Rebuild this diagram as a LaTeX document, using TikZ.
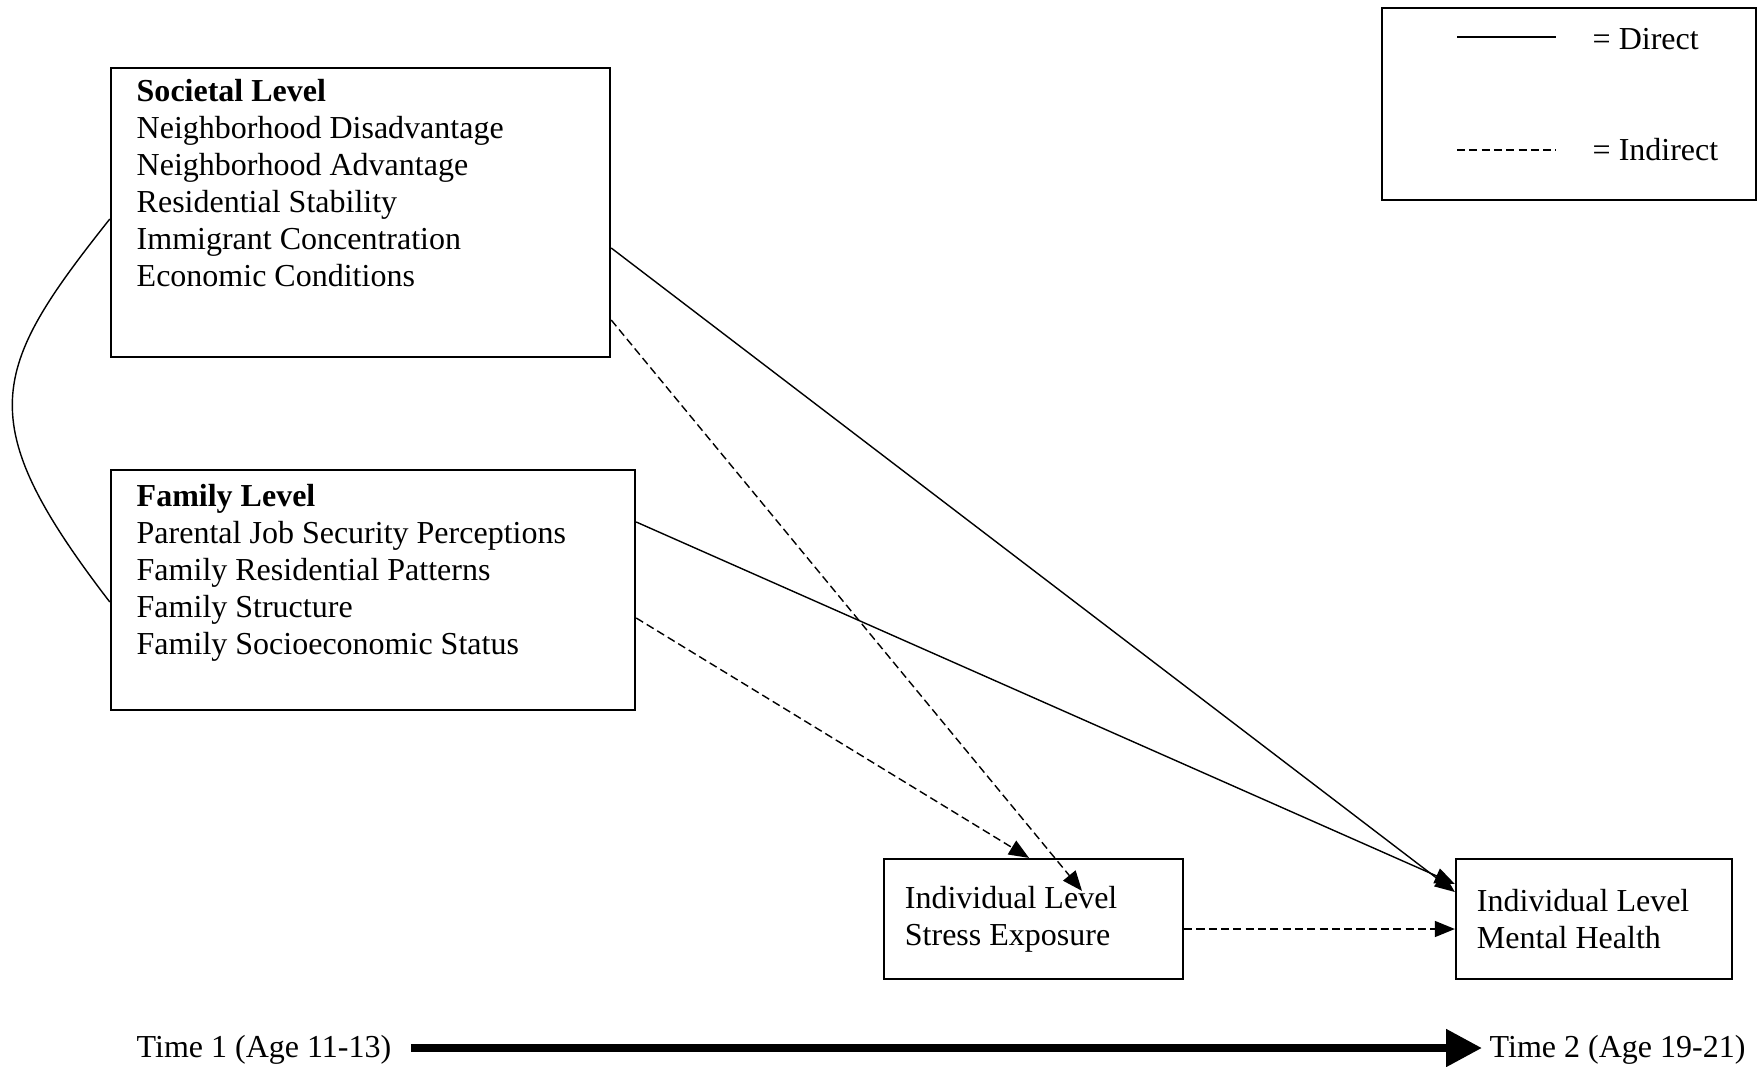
\documentclass[tikz,border=0pt]{standalone}
\usepackage{fontspec}
\setmainfont{Liberation Serif}
\usetikzlibrary{arrows.meta,calc}

\begin{document}
\begin{tikzpicture}[x=0.01cm,y=-0.01cm,font=\fontsize{9.1}{10.5}\selectfont]
            \tikzstyle{levelbox}=[draw,line width=0.6pt,inner sep=0pt]
            \tikzstyle{boxtext}=[anchor=north west,align=left,inner sep=0pt]
            \tikzstyle{outcome}=[draw,line width=0.6pt,align=flush left,text width=2.57cm,inner xsep=0.21cm,minimum height=1.2cm]
            \tikzstyle{direct}=[line width=0.4pt,-{Triangle[length=0.2cm,width=0.16cm]}]
            \tikzstyle{indirect}=[direct,dash pattern=on 2.3pt off 1.2pt]

            \useasboundingbox (0,0) rectangle (1758,1067);

            % level boxes
            \node[levelbox,minimum width=4.99cm,minimum height=2.89cm] (soc) at (360.5,212.5) {};
            \node[boxtext] (soc-text) at (136,79) {\textbf{Societal Level}\\Neighborhood Disadvantage\\Neighborhood Advantage\\Residential Stability\\Immigrant Concentration\\Economic Conditions};
            \node[levelbox,minimum width=5.24cm,minimum height=2.4cm] (fam) at (373,590) {};
            \node[boxtext] (fam-text) at (136,484) {\textbf{Family Level}\\Parental Job Security Perceptions\\Family Residential Patterns\\Family Structure\\Family Socioeconomic Status};

            % individual level boxes
            \node[outcome,minimum width=2.99cm] (stress) at (1033.5,919) {Individual Level\\Stress Exposure};
            \node[outcome,minimum width=2.76cm,text width=2.34cm] (mental) at (1594,919) {Individual Level\\Mental Health};

            % legend
            \node[levelbox,minimum width=3.74cm,minimum height=1.92cm] (legend) at (1569,104) {};
            \coordinate (dir-a) at (1457,37);
            \coordinate (dir-b) at (1556,37);
            \coordinate (ind-a) at (1457,150);
            \coordinate (ind-b) at (1556,150);
            \draw[line width=0.4pt] (dir-a) -- (dir-b);
            \draw[line width=0.4pt,dash pattern=on 2.3pt off 1.2pt] (ind-a) -- (ind-b);
            \node[anchor=west,inner sep=0pt] (dir-lab) at (1592,39) {= Direct};
            \node[anchor=west,inner sep=0pt] (ind-lab) at (1592,150) {= Indirect};

            % paths
            \draw[line width=0.4pt] ($(soc.west)+(0,6.5)$) .. controls (-10,370) and (-30,420) .. ($(fam.west)+(0,12)$);
            \draw[direct] ($(soc.east)+(0,35.5)$) -- ($(mental.west)+(0,-27)$);
            \draw[direct] ($(fam.east)+(0,-68)$) -- ($(mental.west)+(0,-35)$);
            \draw[indirect] ($(soc.east)+(0,107.5)$) -- ($(stress.north)+(48.5,33)$);
            \draw[indirect] ($(fam.east)+(0,28)$) -- ($(stress.north)+(-4.5,0)$);
            \draw[indirect] ($(stress.east)+(0,10)$) -- ($(mental.west)+(0,10)$);

            % time line
            \node[anchor=west,inner sep=0pt] (t1) at (136,1050) {Time 1 (Age 11-13)};
            \node[anchor=west,inner sep=0pt] (t2) at (1489,1050) {Time 2 (Age 19-21)};
            \draw[line width=0.08cm,-{Triangle[length=0.36cm,width=0.36cm]}] ($(t1.east)+(19,-2)$) -- ($(t2.west)+(-7,-2)$);
        \end{tikzpicture}
\end{document}
